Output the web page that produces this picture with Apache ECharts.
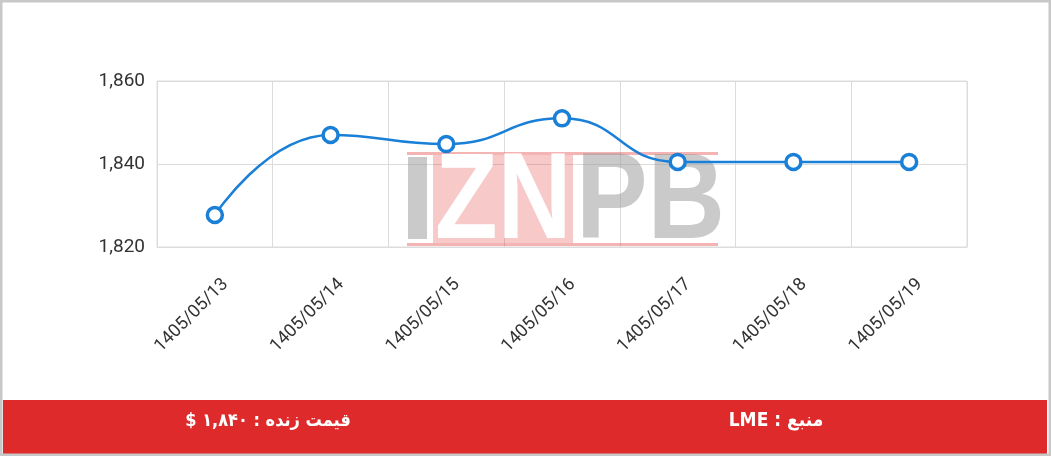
<!DOCTYPE html>
<html><head><meta charset="utf-8">
<script src="https://cdn.jsdelivr.net/npm/echarts@6/dist/echarts.min.js"></script>
<style>html,body{margin:0;padding:0;background:#fff}#c{width:1051px;height:456px}</style>
</head><body><div id="c"></div>
<script>
const categories = ['1405/05/13','1405/05/14','1405/05/15','1405/05/16','1405/05/17','1405/05/18','1405/05/19'];
const prices = [1827.7, 1847, 1844.8, 1851, 1840.5, 1840.5, 1840.5];
const yTicks = {min: 1820, max: 1860, interval: 20};
const priceText = '\u202Bقیمت زنده : ۱,۸۴۰ $\u202C';
const sourceText = '\u202Bمنبع : LME\u202C';

const chart = echarts.init(document.getElementById('c'));
const wmGray = 'rgba(150,150,150,0.5)';
chart.setOption({
  backgroundColor: '#fff',
  animation: false,
  grid: {left: 157, right: 84, top: 81, bottom: 209, show: true, borderColor: '#dcdcdc', borderWidth: 1},
  xAxis: {
    type: 'category', data: categories, boundaryGap: true,
    axisLine: {show: true, lineStyle: {color: '#dcdcdc'}},
    axisTick: {show: false},
    splitLine: {show: true, lineStyle: {color: '#dcdcdc'}},
    axisLabel: {rotate: 45, color: '#333', fontSize: 18, fontFamily: 'Roboto', margin: 24, interval: 0,
      verticalAlign: 'top', padding: [6, 0, 0, 0]}
  },
  yAxis: {
    type: 'value', min: yTicks.min, max: yTicks.max, interval: yTicks.interval,
    axisLine: {show: false}, axisTick: {show: false},
    splitLine: {lineStyle: {color: '#dcdcdc'}},
    axisLabel: {color: '#333', fontSize: 19, fontFamily: 'Roboto', margin: 12,
      formatter: v => v.toLocaleString('en-US')}
  },
  series: [{
    type: 'line', data: prices, smooth: true, z: 5,
    symbol: 'circle', symbolSize: 15,
    lineStyle: {color: '#1a7fd6', width: 2.5},
    itemStyle: {color: '#fff', borderColor: '#1a7fd6', borderWidth: 3.5}
  }],
  graphic: [
    // watermark
    {type: 'rect', z: 1, shape: {x: 407, y: 152, width: 311, height: 3}, style: {fill: 'rgba(224,40,40,0.35)'}},
    {type: 'rect', z: 1, shape: {x: 407, y: 243, width: 311, height: 3}, style: {fill: 'rgba(224,40,40,0.35)'}},
    {type: 'rect', z: 1, shape: {x: 433, y: 155, width: 140, height: 88}, style: {fill: 'rgba(224,40,40,0.25)'}},
    {type: 'rect', z: 1, shape: {x: 408, y: 157, width: 19, height: 82}, style: {fill: wmGray}},
    {type: 'text', z: 1, x: 435, y: 204, scaleX: 0.84,
      style: {text: 'ZN', fill: '#fff', font: 'bold 122px "Liberation Sans"', verticalAlign: 'middle', align: 'left'}},
    {type: 'text', z: 1, x: 576, y: 204, scaleX: 0.88,
      style: {text: 'PB', fill: wmGray, font: 'bold 122px "Liberation Sans"', verticalAlign: 'middle', align: 'left'}},
    // frame and bottom bar
    {type: 'rect', z: 20, shape: {x: 3, y: 400, width: 1044, height: 54}, style: {fill: '#df2a2b'}},
    {type: 'text', z: 21, x: 268, y: 421, style: {text: priceText, fill: '#fff', font: 'bold 18px "DejaVu Sans Condensed"', align: 'center', verticalAlign: 'middle'}},
    {type: 'text', z: 21, x: 776, y: 421, style: {text: sourceText, fill: '#fff', font: 'bold 19px "DejaVu Sans Condensed"', align: 'center', verticalAlign: 'middle'}},
    {type: 'rect', z: 22, shape: {x: 1, y: 1, width: 1049, height: 454}, style: {fill: 'none', stroke: '#c8c8c8', lineWidth: 3}}
  ]
});
</script></body></html>
